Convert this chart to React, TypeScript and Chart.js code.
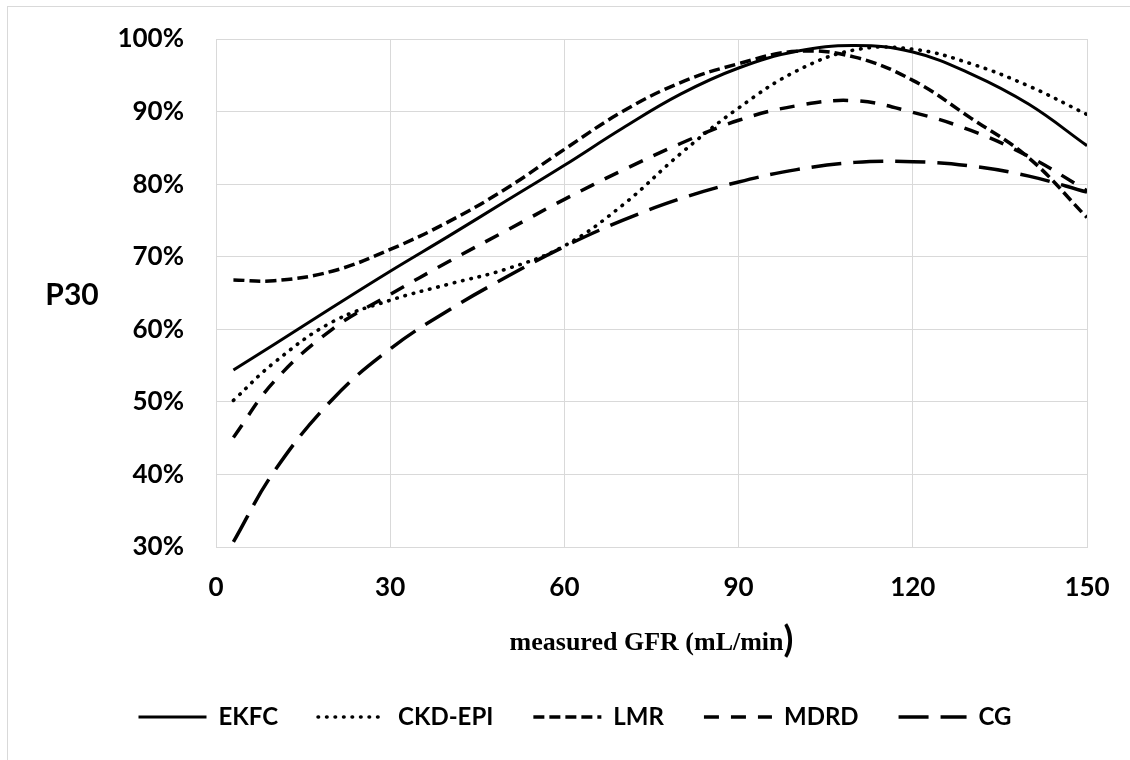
import React, { useEffect, useRef } from "react";
import { Chart, registerables } from "chart.js";

Chart.register(...registerables);

// measured GFR (mL/min)
const GFR = [3, 10, 20, 30, 40, 50, 60, 70, 80, 90, 100, 110, 120, 130, 140, 150];

// P30 (%) per equation
const EKFC = [54.4, 57.9, 63.0, 68.0, 72.8, 77.7, 82.6, 87.7, 92.4, 96.0, 98.3, 99.1, 98.2, 95.2, 91.0, 85.3];
const CKD_EPI = [50.2, 55.4, 61.0, 64.0, 66.2, 68.3, 71.5, 77.1, 84.2, 90.5, 95.6, 98.5, 98.6, 96.6, 93.5, 89.6];
const LMR = [66.8, 66.7, 68.0, 71.0, 74.8, 79.4, 84.8, 90.0, 94.0, 96.6, 98.3, 97.5, 94.3, 89.1, 83.6, 75.4];
const MDRD = [45.1, 52.8, 60.0, 64.8, 69.3, 73.6, 77.9, 81.9, 85.6, 88.8, 90.8, 91.5, 89.9, 87.4, 83.8, 79.1];
const CG = [30.7, 40.4, 50.3, 57.3, 62.6, 67.2, 71.4, 75.0, 78.0, 80.3, 82.0, 83.0, 83.1, 82.5, 81.1, 78.9];

const X_TICKS = [0, 30, 60, 90, 120, 150];
const Y_TICKS = [30, 40, 50, 60, 70, 80, 90, 100];

const SERIES = [
  { label: "EKFC", values: EKFC, dash: [] as number[], width: 3, cap: "butt" },
  { label: "CKD-EPI", values: CKD_EPI, dash: [0.5, 8], width: 3.6, cap: "round" },
  { label: "LMR", values: LMR, dash: [11, 5], width: 3.5, cap: "butt" },
  { label: "MDRD", values: MDRD, dash: [15, 12], width: 3.5, cap: "butt" },
  { label: "CG", values: CG, dash: [30, 12], width: 3.5, cap: "butt" },
];

const GRID = "#d9d9d9";

const decorPlugin = {
  id: "decor",
  beforeDraw(chart: any) {
    const ctx = chart.ctx;
    ctx.save();
    ctx.strokeStyle = GRID;
    ctx.lineWidth = 1;
    ctx.strokeRect(7.5, 6.5, 3000, 3000);
    ctx.restore();
  },
  afterDraw(chart: any) {
    const ctx = chart.ctx;
    const area = chart.chartArea;
    ctx.save();
    ctx.fillStyle = "#000";
    // y-axis title
    ctx.font = "bold 30px Lato";
    ctx.textAlign = "center";
    ctx.textBaseline = "alphabetic";
    ctx.fillText("P30", 72, 305);
    // x-axis title
    const main = "measured GFR (mL/min";
    ctx.font = "bold 26px 'Liberation Serif'";
    const w1 = ctx.measureText(main).width;
    ctx.font = "bold 36px Lato";
    const w2 = ctx.measureText(")").width;
    const cx = (area.left + area.right) / 2;
    const x0 = cx - (w1 + w2) / 2;
    ctx.textAlign = "left";
    ctx.font = "bold 26px 'Liberation Serif'";
    ctx.fillText(main, x0, 650);
    ctx.font = "bold 36px Lato";
    ctx.fillText(")", x0 + w1, 652);
    ctx.restore();
  },
};

export default function App() {
  const ref = useRef<HTMLCanvasElement | null>(null);

  useEffect(() => {
    if (!ref.current) return;
    const chart = new Chart(ref.current, {
      type: "line",
      data: {
        datasets: SERIES.map((s) => ({
          label: s.label,
          data: GFR.map((x, i) => ({ x, y: s.values[i] })),
          borderColor: "#000",
          backgroundColor: "#000",
          borderWidth: s.width,
          borderDash: s.dash,
          borderCapStyle: s.cap as any,
          pointRadius: 0,
          pointHoverRadius: 0,
          tension: 0.4,
          fill: false,
        })),
      },
      options: {
        animation: false,
        responsive: true,
        maintainAspectRatio: false,
        layout: { padding: { left: 63, right: 43, top: 39, bottom: 21 } },
        plugins: {
          legend: {
            position: "bottom",
            labels: {
              usePointStyle: true,
              pointStyle: "line",
              pointStyleWidth: 68,
              padding: 40,
              color: "#000",
              font: { family: "Lato", size: 24, weight: "bold" },
              generateLabels: (chart: any) => {
                const items = Chart.defaults.plugins.legend.labels.generateLabels(chart);
                return items.map((it: any, i: number) => ({
                  ...it,
                  pointStyle: "line",
                  lineDash: SERIES[i].dash,
                  lineWidth: SERIES[i].width,
                  lineCap: SERIES[i].cap,
                  strokeStyle: "#000",
                  fillStyle: "#000",
                  fontColor: "#000",
                }));
              },
            },
          },
          tooltip: { enabled: false },
        },
        scales: {
          x: {
            type: "linear",
            min: 0,
            max: 150,
            afterBuildTicks: (scale: any) => {
              scale.ticks = X_TICKS.map((v) => ({ value: v }));
            },
            afterFit: (scale: any) => {
              scale.height = 118;
              scale.paddingLeft = 0;
              scale.paddingRight = 0;
            },
            grid: { color: GRID, drawTicks: false, lineWidth: 1 },
            border: { color: GRID },
            ticks: {
              padding: 25,
              color: "#000",
              font: { family: "Lato", size: 26, weight: "bold" },
              maxRotation: 0,
            },
          },
          y: {
            min: 30,
            max: 100,
            afterBuildTicks: (scale: any) => {
              scale.ticks = Y_TICKS.map((v) => ({ value: v }));
            },
            afterFit: (scale: any) => {
              scale.width = 153;
              scale.paddingTop = 0;
              scale.paddingBottom = 0;
            },
            grid: { color: GRID, drawTicks: false, lineWidth: 1 },
            border: { color: GRID },
            ticks: {
              padding: 32,
              color: "#000",
              font: { family: "Lato", size: 26, weight: "bold" },
              callback: (v: any) => `${v}%`,
            },
          },
        },
      },
      plugins: [decorPlugin],
    });
    return () => chart.destroy();
  }, []);

  return (
    <div style={{ position: "absolute", left: 0, top: 0, width: 1130, height: 760, background: "#fff" }}>
      <canvas ref={ref} />
    </div>
  );
}
